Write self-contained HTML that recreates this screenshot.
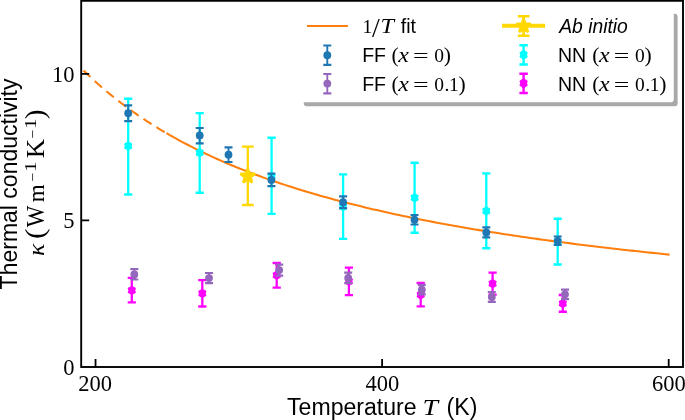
<!DOCTYPE html>
<html lang="en"><head><meta charset="utf-8"><title>Thermal conductivity</title>
<style>html,body{margin:0;padding:0;background:#fff}svg{display:block}.s{font-family:"Liberation Sans",Arial,Helvetica,sans-serif}.r{font-family:"Liberation Serif","Times New Roman",serif}.i{font-style:italic}</style></head><body>
<svg width="685" height="420" viewBox="0 0 685 420">
<rect width="685" height="420" fill="#fff"/>
<g opacity="0.999">
<g fill="none" stroke="#ff7f0e" stroke-width="2.05">
<path d="M83.49,70.40 L85.20,72.08 L86.91,73.73 L88.62,75.36 L90.32,76.97 L92.03,78.56 L93.74,80.14 L95.45,81.69 L97.15,83.23 L98.86,84.75 L100.57,86.25 L102.28,87.73 L103.99,89.19 L105.69,90.64 L107.40,92.08 L109.11,93.49 L110.82,94.89 L112.52,96.27 L114.23,97.64 L115.94,99.00 L117.65,100.34 L119.36,101.66 L121.06,102.97 L122.77,104.26 L124.48,105.54 L126.19,106.81 L127.89,108.06 L129.60,109.30 L131.31,110.53 L133.02,111.75 L134.73,112.95 L136.43,114.14 L138.14,115.31 L139.85,116.48 L141.56,117.63 L143.27,118.77 L144.97,119.90 L146.68,121.02 L148.39,122.12 L150.10,123.22 L151.80,124.30 L153.51,125.38 L155.22,126.44 L156.93,127.49 L158.64,128.53 L160.34,129.57 L162.05,130.59 L163.76,131.60 L165.47,132.60 L167.17,133.60" stroke-dasharray="9.65 5.8"/>
<path d="M166.46,133.18 L170.69,135.61 L174.91,137.98 L179.14,140.30 L183.37,142.56 L187.60,144.78 L191.82,146.94 L196.05,149.06 L200.28,151.14 L204.51,153.16 L208.73,155.15 L212.96,157.09 L217.19,159.00 L221.42,160.86 L225.64,162.69 L229.87,164.48 L234.10,166.23 L238.33,167.95 L242.56,169.64 L246.78,171.29 L251.01,172.92 L255.24,174.51 L259.47,176.07 L263.69,177.60 L267.92,179.11 L272.15,180.58 L276.38,182.03 L280.60,183.46 L284.83,184.86 L289.06,186.23 L293.29,187.58 L297.51,188.91 L301.74,190.21 L305.97,191.49 L310.20,192.75 L314.43,193.99 L318.65,195.21 L322.88,196.41 L327.11,197.59 L331.34,198.75 L335.56,199.89 L339.79,201.01 L344.02,202.12 L348.25,203.21 L352.47,204.28 L356.70,205.33 L360.93,206.37 L365.16,207.39 L369.39,208.40 L373.61,209.39 L377.84,210.37 L382.07,211.33 L386.30,212.28 L390.52,213.22 L394.75,214.14 L398.98,215.05 L403.21,215.94 L407.43,216.83 L411.66,217.70 L415.89,218.55 L420.12,219.40 L424.34,220.24 L428.57,221.06 L432.80,221.87 L437.03,222.67 L441.26,223.46 L445.48,224.24 L449.71,225.01 L453.94,225.77 L458.17,226.52 L462.39,227.26 L466.62,227.99 L470.85,228.72 L475.08,229.43 L479.30,230.13 L483.53,230.82 L487.76,231.51 L491.99,232.19 L496.21,232.86 L500.44,233.52 L504.67,234.17 L508.90,234.81 L513.13,235.45 L517.35,236.08 L521.58,236.70 L525.81,237.32 L530.04,237.93 L534.26,238.53 L538.49,239.12 L542.72,239.71 L546.95,240.29 L551.17,240.86 L555.40,241.42 L559.63,241.99 L563.86,242.54 L568.08,243.09 L572.31,243.63 L576.54,244.16 L580.77,244.69 L585.00,245.22 L589.22,245.74 L593.45,246.25 L597.68,246.76 L601.91,247.26 L606.13,247.76 L610.36,248.25 L614.59,248.73 L618.82,249.22 L623.04,249.69 L627.27,250.16 L631.50,250.63 L635.73,251.09 L639.96,251.55 L644.18,252.00 L648.41,252.45 L652.64,252.89 L656.87,253.33 L661.09,253.77 L665.32,254.20 L669.55,254.62"/>
</g>
<path d="M128.20,98.8V194.5" stroke="#00ffff" stroke-width="2.3" fill="none"/><path d="M124.10,98.8h8.2M124.10,194.5h8.2" stroke="#00ffff" stroke-width="2.4" fill="none"/>
<polygon points="128.20,141.30 132.35,143.70 131.65,146.00 132.35,148.30 128.20,150.70 124.05,148.30 124.75,146.00 124.05,143.70" fill="#00ffff"/>
<path d="M199.70,113.1V192.8" stroke="#00ffff" stroke-width="2.3" fill="none"/><path d="M195.60,113.1h8.2M195.60,192.8h8.2" stroke="#00ffff" stroke-width="2.4" fill="none"/>
<polygon points="199.70,148.10 203.85,150.50 203.15,152.80 203.85,155.10 199.70,157.50 195.55,155.10 196.25,152.80 195.55,150.50" fill="#00ffff"/>
<path d="M271.60,137.8V213.9" stroke="#00ffff" stroke-width="2.3" fill="none"/><path d="M267.50,137.8h8.2M267.50,213.9h8.2" stroke="#00ffff" stroke-width="2.4" fill="none"/>
<polygon points="271.60,171.60 275.75,174.00 275.05,176.30 275.75,178.60 271.60,181.00 267.45,178.60 268.15,176.30 267.45,174.00" fill="#00ffff"/>
<path d="M343.10,174.4V238.9" stroke="#00ffff" stroke-width="2.3" fill="none"/><path d="M339.00,174.4h8.2M339.00,238.9h8.2" stroke="#00ffff" stroke-width="2.4" fill="none"/>
<polygon points="343.10,201.90 347.25,204.30 346.55,206.60 347.25,208.90 343.10,211.30 338.95,208.90 339.65,206.60 338.95,204.30" fill="#00ffff"/>
<path d="M414.60,162.8V232.8" stroke="#00ffff" stroke-width="2.3" fill="none"/><path d="M410.50,162.8h8.2M410.50,232.8h8.2" stroke="#00ffff" stroke-width="2.4" fill="none"/>
<polygon points="414.60,193.10 418.75,195.50 418.05,197.80 418.75,200.10 414.60,202.50 410.45,200.10 411.15,197.80 410.45,195.50" fill="#00ffff"/>
<path d="M486.30,173.4V248.2" stroke="#00ffff" stroke-width="2.3" fill="none"/><path d="M482.20,173.4h8.2M482.20,248.2h8.2" stroke="#00ffff" stroke-width="2.4" fill="none"/>
<polygon points="486.30,206.30 490.45,208.70 489.75,211.00 490.45,213.30 486.30,215.70 482.15,213.30 482.85,211.00 482.15,208.70" fill="#00ffff"/>
<path d="M557.70,218.7V264.5" stroke="#00ffff" stroke-width="2.3" fill="none"/><path d="M553.60,218.7h8.2M553.60,264.5h8.2" stroke="#00ffff" stroke-width="2.4" fill="none"/>
<polygon points="557.70,236.90 561.85,239.30 561.15,241.60 561.85,243.90 557.70,246.30 553.55,243.90 554.25,241.60 553.55,239.30" fill="#00ffff"/>
<path d="M131.80,277.9V302.4" stroke="#ff00ff" stroke-width="2.3" fill="none"/><path d="M127.70,277.9h8.2M127.70,302.4h8.2" stroke="#ff00ff" stroke-width="2.4" fill="none"/>
<polygon points="131.80,285.70 135.95,288.10 135.25,290.40 135.95,292.70 131.80,295.10 127.65,292.70 128.35,290.40 127.65,288.10" fill="#ff00ff"/>
<path d="M202.30,280.1V306.5" stroke="#ff00ff" stroke-width="2.3" fill="none"/><path d="M198.20,280.1h8.2M198.20,306.5h8.2" stroke="#ff00ff" stroke-width="2.4" fill="none"/>
<polygon points="202.30,288.70 206.45,291.10 205.75,293.40 206.45,295.70 202.30,298.10 198.15,295.70 198.85,293.40 198.15,291.10" fill="#ff00ff"/>
<path d="M276.70,263.0V287.6" stroke="#ff00ff" stroke-width="2.3" fill="none"/><path d="M272.60,263.0h8.2M272.60,287.6h8.2" stroke="#ff00ff" stroke-width="2.4" fill="none"/>
<polygon points="276.70,270.60 280.85,273.00 280.15,275.30 280.85,277.60 276.70,280.00 272.55,277.60 273.25,275.30 272.55,273.00" fill="#ff00ff"/>
<path d="M348.90,267.6V295.1" stroke="#ff00ff" stroke-width="2.3" fill="none"/><path d="M344.80,267.6h8.2M344.80,295.1h8.2" stroke="#ff00ff" stroke-width="2.4" fill="none"/>
<polygon points="348.90,276.60 353.05,279.00 352.35,281.30 353.05,283.60 348.90,286.00 344.75,283.60 345.45,281.30 344.75,279.00" fill="#ff00ff"/>
<path d="M420.70,283.0V306.4" stroke="#ff00ff" stroke-width="2.3" fill="none"/><path d="M416.60,283.0h8.2M416.60,306.4h8.2" stroke="#ff00ff" stroke-width="2.4" fill="none"/>
<polygon points="420.70,290.00 424.85,292.40 424.15,294.70 424.85,297.00 420.70,299.40 416.55,297.00 417.25,294.70 416.55,292.40" fill="#ff00ff"/>
<path d="M492.60,272.6V294.6" stroke="#ff00ff" stroke-width="2.3" fill="none"/><path d="M488.50,272.6h8.2M488.50,294.6h8.2" stroke="#ff00ff" stroke-width="2.4" fill="none"/>
<polygon points="492.60,278.90 496.75,281.30 496.05,283.60 496.75,285.90 492.60,288.30 488.45,285.90 489.15,283.60 488.45,281.30" fill="#ff00ff"/>
<path d="M562.80,295.0V311.8" stroke="#ff00ff" stroke-width="2.3" fill="none"/><path d="M558.70,295.0h8.2M558.70,311.8h8.2" stroke="#ff00ff" stroke-width="2.4" fill="none"/>
<polygon points="562.80,298.80 566.95,301.20 566.25,303.50 566.95,305.80 562.80,308.20 558.65,305.80 559.35,303.50 558.65,301.20" fill="#ff00ff"/>
<path d="M128.20,105.3V121.1" stroke="#1f77b4" stroke-width="1.9" fill="none"/><path d="M124.20,105.3h8.0M124.20,121.1h8.0" stroke="#1f77b4" stroke-width="2.2" fill="none"/>
<circle cx="128.20" cy="113.20" r="3.9" fill="#1f77b4"/>
<path d="M199.70,128.0V143.4" stroke="#1f77b4" stroke-width="1.9" fill="none"/><path d="M195.70,128.0h8.0M195.70,143.4h8.0" stroke="#1f77b4" stroke-width="2.2" fill="none"/>
<circle cx="199.70" cy="135.40" r="3.9" fill="#1f77b4"/>
<path d="M228.50,147.3V162.0" stroke="#1f77b4" stroke-width="1.9" fill="none"/><path d="M224.50,147.3h8.0M224.50,162.0h8.0" stroke="#1f77b4" stroke-width="2.2" fill="none"/>
<circle cx="228.50" cy="154.70" r="3.9" fill="#1f77b4"/>
<path d="M271.40,173.6V186.1" stroke="#1f77b4" stroke-width="1.9" fill="none"/><path d="M267.40,173.6h8.0M267.40,186.1h8.0" stroke="#1f77b4" stroke-width="2.2" fill="none"/>
<circle cx="271.40" cy="179.90" r="3.9" fill="#1f77b4"/>
<path d="M343.10,196.3V208.2" stroke="#1f77b4" stroke-width="1.9" fill="none"/><path d="M339.10,196.3h8.0M339.10,208.2h8.0" stroke="#1f77b4" stroke-width="2.2" fill="none"/>
<circle cx="343.10" cy="202.20" r="3.9" fill="#1f77b4"/>
<path d="M414.50,215.0V224.5" stroke="#1f77b4" stroke-width="1.9" fill="none"/><path d="M410.50,215.0h8.0M410.50,224.5h8.0" stroke="#1f77b4" stroke-width="2.2" fill="none"/>
<circle cx="414.50" cy="219.70" r="3.9" fill="#1f77b4"/>
<path d="M486.30,227.4V237.4" stroke="#1f77b4" stroke-width="1.9" fill="none"/><path d="M482.30,227.4h8.0M482.30,237.4h8.0" stroke="#1f77b4" stroke-width="2.2" fill="none"/>
<circle cx="486.30" cy="232.40" r="3.9" fill="#1f77b4"/>
<path d="M557.70,236.5V245.0" stroke="#1f77b4" stroke-width="1.9" fill="none"/><path d="M553.70,236.5h8.0M553.70,245.0h8.0" stroke="#1f77b4" stroke-width="2.2" fill="none"/>
<circle cx="557.70" cy="240.80" r="3.9" fill="#1f77b4"/>
<path d="M134.30,269.2V279.5" stroke="#9467bd" stroke-width="1.9" fill="none"/><path d="M130.30,269.2h8.0M130.30,279.5h8.0" stroke="#9467bd" stroke-width="2.2" fill="none"/>
<circle cx="134.30" cy="274.40" r="3.9" fill="#9467bd"/>
<path d="M209.00,273.0V283.2" stroke="#9467bd" stroke-width="1.9" fill="none"/><path d="M205.00,273.0h8.0M205.00,283.2h8.0" stroke="#9467bd" stroke-width="2.2" fill="none"/>
<circle cx="209.00" cy="278.10" r="3.9" fill="#9467bd"/>
<path d="M279.20,264.7V275.7" stroke="#9467bd" stroke-width="1.9" fill="none"/><path d="M275.20,264.7h8.0M275.20,275.7h8.0" stroke="#9467bd" stroke-width="2.2" fill="none"/>
<circle cx="279.20" cy="270.10" r="3.9" fill="#9467bd"/>
<path d="M348.20,272.7V283.2" stroke="#9467bd" stroke-width="1.9" fill="none"/><path d="M344.20,272.7h8.0M344.20,283.2h8.0" stroke="#9467bd" stroke-width="2.2" fill="none"/>
<circle cx="348.20" cy="277.90" r="3.9" fill="#9467bd"/>
<path d="M421.80,284.9V294.4" stroke="#9467bd" stroke-width="1.9" fill="none"/><path d="M417.80,284.9h8.0M417.80,294.4h8.0" stroke="#9467bd" stroke-width="2.2" fill="none"/>
<circle cx="421.80" cy="289.70" r="3.9" fill="#9467bd"/>
<path d="M491.80,292.0V301.8" stroke="#9467bd" stroke-width="1.9" fill="none"/><path d="M487.80,292.0h8.0M487.80,301.8h8.0" stroke="#9467bd" stroke-width="2.2" fill="none"/>
<circle cx="491.80" cy="297.00" r="3.9" fill="#9467bd"/>
<path d="M565.00,289.6V299.1" stroke="#9467bd" stroke-width="1.9" fill="none"/><path d="M561.00,289.6h8.0M561.00,299.1h8.0" stroke="#9467bd" stroke-width="2.2" fill="none"/>
<circle cx="565.00" cy="294.30" r="3.9" fill="#9467bd"/>
<path d="M247.80,146.6V205.0" stroke="#ffd700" stroke-width="2.3" fill="none"/><path d="M241.90,146.6h11.8M241.90,205.0h11.8" stroke="#ffd700" stroke-width="2.4" fill="none"/>
<polygon points="247.70,168.60 249.41,173.85 254.93,173.85 250.46,177.10 252.17,182.35 247.70,179.10 243.23,182.35 244.94,177.10 240.47,173.85 245.99,173.85" fill="#ffd700" stroke="#ffd700" stroke-width="2.6" stroke-linejoin="bevel"/>
<rect x="81.2" y="0.8" width="601.8" height="366.2" fill="none" stroke="#000" stroke-width="1.9"/>
<path d="M95.53,367.0v-8.0 M382.11,367.0v-8.0 M668.69,367.0v-8.0 M81.2,220.45h8.0 M81.2,73.90h8.0" stroke="#000" stroke-width="1.8" fill="none"/>
<text class="r" font-size="22.5" text-anchor="middle" x="95.20" y="390.60">200</text>
<text class="r" font-size="22.5" text-anchor="middle" x="382.30" y="390.60">400</text>
<text class="r" font-size="22.5" text-anchor="middle" x="668.90" y="390.60">600</text>
<text class="r" font-size="22.5" text-anchor="end" x="74.50" y="375.30">0</text>
<text class="r" font-size="22.5" text-anchor="end" x="74.50" y="228.30">5</text>
<text class="r" font-size="22.5" text-anchor="end" x="74.50" y="82.30">10</text>
<text class="s" font-size="23.1" x="287.00" y="415.00">Temperature</text>
<text class="r i" font-size="24" textLength="15.5" lengthAdjust="spacingAndGlyphs" x="422.40" y="415.00">T</text>
<text class="s" font-size="23.1" x="446.60" y="415.00">(K)</text>
<text class="s" font-size="23.0" transform="translate(17.30,289.40) rotate(-90)">Thermal conductivity</text>
<text class="r i" font-size="22.5" textLength="12.4" lengthAdjust="spacingAndGlyphs" transform="translate(44.00,256.10) rotate(-90)">κ</text>
<text class="r" font-size="22.5" textLength="10.4" lengthAdjust="spacingAndGlyphs" transform="translate(44.30,239.10) rotate(-90) scale(1,1.22)">(</text>
<text class="r" font-size="24.5" textLength="21.6" lengthAdjust="spacingAndGlyphs" transform="translate(44.00,227.30) rotate(-90)">W</text>
<text class="r" font-size="23" transform="translate(44.00,202.30) rotate(-90)">m</text>
<text class="r" font-size="15.4" transform="translate(37.60,181.50) rotate(-90)">−</text>
<text class="r" font-size="15.8" textLength="10.5" lengthAdjust="spacingAndGlyphs" transform="translate(36.40,171.90) rotate(-90)">1</text>
<text class="r" font-size="25" textLength="19.4" lengthAdjust="spacingAndGlyphs" transform="translate(44.00,158.30) rotate(-90)">K</text>
<text class="r" font-size="15.4" transform="translate(37.60,138.50) rotate(-90)">−</text>
<text class="r" font-size="15.8" textLength="10.5" lengthAdjust="spacingAndGlyphs" transform="translate(36.40,128.90) rotate(-90)">1</text>
<text class="r" font-size="22.5" textLength="9.8" lengthAdjust="spacingAndGlyphs" transform="translate(44.30,119.20) rotate(-90) scale(1,1.22)">)</text>
<rect x="303.8" y="13.8" width="373.8" height="92.4" rx="3" fill="#a8a8a8"/>
<rect x="300" y="10" width="373.8" height="92.2" rx="3" fill="#fff"/>
<path d="M307,26H347.9" stroke="#ff7f0e" stroke-width="2.2" fill="none"/>
<path d="M327.30,45.5V64.8" stroke="#1f77b4" stroke-width="1.9" fill="none"/><path d="M323.30,45.5h8.0M323.30,64.8h8.0" stroke="#1f77b4" stroke-width="2.2" fill="none"/>
<circle cx="327.30" cy="55.20" r="3.9" fill="#1f77b4"/>
<path d="M327.30,74.0V93.3" stroke="#9467bd" stroke-width="1.9" fill="none"/><path d="M323.30,74.0h8.0M323.30,93.3h8.0" stroke="#9467bd" stroke-width="2.2" fill="none"/>
<circle cx="327.30" cy="83.60" r="3.9" fill="#9467bd"/>
<path d="M502.1,25.8H545.1" stroke="#ffd700" stroke-width="4" fill="none"/>
<path d="M523.60,16.2V35.8" stroke="#ffd700" stroke-width="2.6" fill="none"/><path d="M517.80,16.2h11.6M517.80,35.8h11.6" stroke="#ffd700" stroke-width="2.4" fill="none"/>
<polygon points="523.60,18.50 525.28,23.68 530.73,23.68 526.32,26.89 528.01,32.07 523.60,28.86 519.19,32.07 520.88,26.89 516.47,23.68 521.92,23.68" fill="#ffd700" stroke="#ffd700" stroke-width="2.5" stroke-linejoin="bevel"/>
<path d="M523.60,45.3V64.5" stroke="#00ffff" stroke-width="2.4" fill="none"/><path d="M519.40,45.3h8.4M519.40,64.5h8.4" stroke="#00ffff" stroke-width="2.4" fill="none"/>
<polygon points="523.60,49.50 527.75,52.40 527.05,54.70 527.75,57.00 523.60,59.90 519.45,57.00 520.15,54.70 519.45,52.40" fill="#00ffff"/>
<path d="M523.60,73.8V93.0" stroke="#ff00ff" stroke-width="2.4" fill="none"/><path d="M519.40,73.8h8.4M519.40,93.0h8.4" stroke="#ff00ff" stroke-width="2.4" fill="none"/>
<polygon points="523.60,78.00 527.75,80.90 527.05,83.20 527.75,85.50 523.60,88.40 519.45,85.50 520.15,83.20 519.45,80.90" fill="#ff00ff"/>
<text class="r" font-size="19.5" x="362.60" y="33.20">1</text>
<text class="r" font-size="28" x="372.00" y="37.40">/</text>
<text class="r i" font-size="20.5" textLength="13.5" lengthAdjust="spacingAndGlyphs" x="380.40" y="33.20">T</text>
<text class="s" font-size="19.5" x="400.80" y="33.20">fit</text>
<text class="s" font-size="19.5" x="362.20" y="61.60">FF</text><text class="r" font-size="21.6" x="391.60" y="61.90">(</text><text class="r i" font-size="20.5" textLength="10.6" lengthAdjust="spacingAndGlyphs" x="398.20" y="61.60">x</text><text class="r" font-size="19.5" textLength="15.6" lengthAdjust="spacingAndGlyphs" x="413.00" y="61.60">=</text><text class="r" font-size="19.5" x="434.20" y="61.60">0</text><text class="r" font-size="21.6" x="443.80" y="61.90">)</text>
<text class="s" font-size="19.5" x="362.20" y="90.60">FF</text><text class="r" font-size="21.6" x="391.60" y="90.90">(</text><text class="r i" font-size="20.5" textLength="10.6" lengthAdjust="spacingAndGlyphs" x="398.20" y="90.60">x</text><text class="r" font-size="19.5" textLength="15.6" lengthAdjust="spacingAndGlyphs" x="413.00" y="90.60">=</text><text class="r" font-size="19.5" x="434.20" y="90.60">0</text><text class="r" font-size="19.5" x="444.60" y="90.60">.</text><text class="r" font-size="19.5" x="449.00" y="90.60">1</text><text class="r" font-size="21.6" x="458.60" y="90.90">)</text>
<text class="s i" font-size="19.3" x="559.20" y="33.20">Ab initio</text>
<text class="s" font-size="19.5" x="557.90" y="61.60">NN</text><text class="r" font-size="21.6" x="592.30" y="61.90">(</text><text class="r i" font-size="20.5" textLength="10.6" lengthAdjust="spacingAndGlyphs" x="598.90" y="61.60">x</text><text class="r" font-size="19.5" textLength="15.6" lengthAdjust="spacingAndGlyphs" x="613.70" y="61.60">=</text><text class="r" font-size="19.5" x="634.90" y="61.60">0</text><text class="r" font-size="21.6" x="644.50" y="61.90">)</text>
<text class="s" font-size="19.5" x="557.90" y="90.60">NN</text><text class="r" font-size="21.6" x="592.30" y="90.90">(</text><text class="r i" font-size="20.5" textLength="10.6" lengthAdjust="spacingAndGlyphs" x="598.90" y="90.60">x</text><text class="r" font-size="19.5" textLength="15.6" lengthAdjust="spacingAndGlyphs" x="613.70" y="90.60">=</text><text class="r" font-size="19.5" x="634.90" y="90.60">0</text><text class="r" font-size="19.5" x="645.30" y="90.60">.</text><text class="r" font-size="19.5" x="649.70" y="90.60">1</text><text class="r" font-size="21.6" x="659.30" y="90.90">)</text>
</g></svg></body></html>
